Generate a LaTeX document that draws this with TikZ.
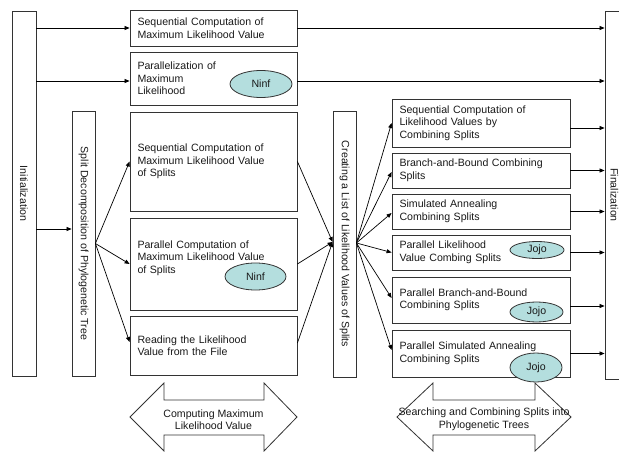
\documentclass[tikz,border=0pt]{standalone}
\usepackage{fontspec}
\setmainfont{Liberation Sans}
\usetikzlibrary{arrows.meta,calc,shapes.geometric}
\definecolor{ellfill}{HTML}{B4DEDE}
\definecolor{edge}{HTML}{333333}
\begin{document}
\begin{tikzpicture}[x=1pt,y=-1pt,
  fnt/.style={font=\fontsize{10.6}{12.5}\selectfont, text=black!90},
  box/.style={fnt, draw=edge, line width=0.8pt, inner xsep=7.5pt, inner ysep=0pt, align=left, text width=152pt, minimum width=167pt},
  rbox/.style={fnt, draw=edge, line width=0.8pt, inner xsep=7.5pt, inner ysep=0pt, align=left, text width=163pt, minimum width=178pt},
  vbox/.style={draw=edge, line width=0.8pt, inner sep=0pt},
  vtxt/.style={fnt, rotate=-90, inner sep=0pt},
  ell/.style={fnt, ellipse, draw=edge, line width=0.8pt, fill=ellfill, inner sep=0pt},
  arr/.style={draw=black, line width=0.7pt, -{Triangle[length=5pt,width=4pt]}},
  dbl/.style={draw=edge, line width=0.8pt, fill=white}
]
\useasboundingbox (0,0) rectangle (619,452);
\clip (0,0) rectangle (619,452);
% vertical boxes
\node[vbox, minimum width=24pt, minimum height=365pt] (init) at (24,193.5) {};
\node[vtxt] (initt) at (init) {Initialization};
\node[vbox, minimum width=23pt, minimum height=265pt] (split) at (83.5,243.5) {};
\node[vtxt] (splitt) at (split) {Split Decomposition of Phylogenetic Tree};
\node[vbox, minimum width=23pt, minimum height=266pt] (create) at (344.5,244) {};
\node[vtxt] (createt) at (create) {Creating a List of Likelihood Values of Splits};
\node[vbox, minimum width=28pt, minimum height=368pt] (fin) at (619,195) {};
\node[vtxt] (fint) at (614.5,195) {Finalization};
% middle boxes
\node[box, minimum height=36pt] (b1) at (213.5,28) {Sequential Computation of\\Maximum Likelihood Value};
\node[box, minimum height=53pt] (b2) at (213.5,78.5) {Parallelization of\\Maximum\\Likelihood};
\node[box, minimum height=99pt] (b3) at (213.5,161.5) {Sequential Computation of\\Maximum Likelihood Value\\of Splits};
\node[box, minimum height=92pt] (b4) at (213.5,264) {};
\node[fnt, align=left, text width=152pt, inner sep=0pt] (b4t) at (213.5,258) {Parallel Computation of\\Maximum Likelihood Value\\of Splits};
\node[box, minimum height=59pt] (b5) at (213.5,345.5) {Reading the Likelihood\\Value from the File};
% right boxes
\node[rbox, minimum height=48pt] (r1) at (481,123) {Sequential Computation of\\Likelihood Values by\\Combining Splits};
\node[rbox, minimum height=35pt] (r2) at (481,170.5) {Branch-and-Bound Combining\\Splits};
\node[rbox, minimum height=35pt] (r3) at (481,211.5) {Simulated Annealing\\Combining Splits};
\node[rbox, minimum height=35pt] (r4) at (481,252.5) {Parallel Likelihood\\Value Combing Splits};
\node[rbox, minimum height=46pt] (r5) at (481,300) {Parallel Branch-and-Bound\\Combining Splits};
\node[rbox, minimum height=47pt] (r6) at (481,353.5) {Parallel Simulated Annealing\\Combining Splits};
% ellipses
\node[ell, minimum width=62pt, minimum height=27pt] (n1) at (261,84) {Ninf};
\node[ell, minimum width=61pt, minimum height=27pt] (n2) at (255.5,276.5) {Ninf};
\node[ell, minimum width=54pt, minimum height=17pt] (j1) at (537,250) {Jojo};
\node[ell, minimum width=53pt, minimum height=20pt] (j2) at (536.5,312) {Jojo};
\node[ell, minimum width=52pt, minimum height=29pt] (j3) at (536,367.5) {Jojo};
% top arrows
\draw[arr] (init.east |- b1.west) -- (b1.west);
\draw[arr] (b1.east) -- (fin.west |- b1.east);
\coordinate (b2in) at ([yshift=-2.5pt]b2.west);
\coordinate (b2out) at ([yshift=-2.5pt]b2.east);
\draw[arr] (init.east |- b2in) -- (b2in);
\draw[arr] (b2out) -- (fin.west |- b2out);
% init to split
\coordinate (sIn) at ([yshift=14.5pt]split.west);
\draw[arr] (init.east |- sIn) -- (sIn);
% split fan-out
\draw[arr] (split.east) -- (b3.west);
\draw[arr] (split.east) -- (b4.west);
\draw[arr] (split.east) -- ([yshift=3.5pt]b5.west);
% fan-in to create
\coordinate (cIn) at ([yshift=2pt]create.west);
\draw[arr] (b3.east) -- (cIn);
\draw[arr] (b4.east) -- (cIn);
\draw[arr] ([yshift=2.5pt]b5.east) -- (cIn);
% create fan-out
\coordinate (cOut) at ([yshift=1pt]create.east);
\draw[arr] (cOut) -- (r1.west);
\draw[arr] (cOut) -- ([yshift=-1.5pt]r2.west);
\draw[arr] (cOut) -- ([yshift=-1.5pt]r3.west);
\draw[arr] (cOut) -- (r4.west);
\draw[arr] (cOut) -- ([yshift=2pt]r5.west);
\draw[arr] (cOut) -- ([yshift=3.5pt]r6.west);
% right boxes to finalization
\coordinate (o1) at ([yshift=-5pt]r1.east);
\coordinate (o5) at ([yshift=-6pt]r5.east);
\draw[arr] (o1) -- (fin.west |- o1);
\draw[arr] (r2.east) -- (fin.west |- r2.east);
\draw[arr] (r3.east) -- (fin.west |- r3.east);
\draw[arr] (r4.east) -- (fin.west |- r4.east);
\draw[arr] (o5) -- (fin.west |- o5);
\draw[arr] (r6.east) -- (fin.west |- r6.east);
% double arrows
\draw[dbl] (130,417) -- (164,383) -- (164,400) -- (264,400) -- (264,383) -- (297,417) -- (264,451) -- (264,435) -- (164,435) -- (164,451) -- cycle;
\node[fnt, align=center, inner sep=0pt] (cm) at (213.5,419.5) {Computing Maximum\\Likelihood Value};
\draw[dbl] (397,417) -- (433,383) -- (433,400) -- (535,400) -- (535,383) -- (571,417) -- (535,451) -- (535,435) -- (433,435) -- (433,451) -- cycle;
\node[fnt, align=center, inner sep=0pt] (sc) at (484,419.5) {Searching and Combining Splits into\\Phylogenetic Trees};
\end{tikzpicture}
\end{document}
